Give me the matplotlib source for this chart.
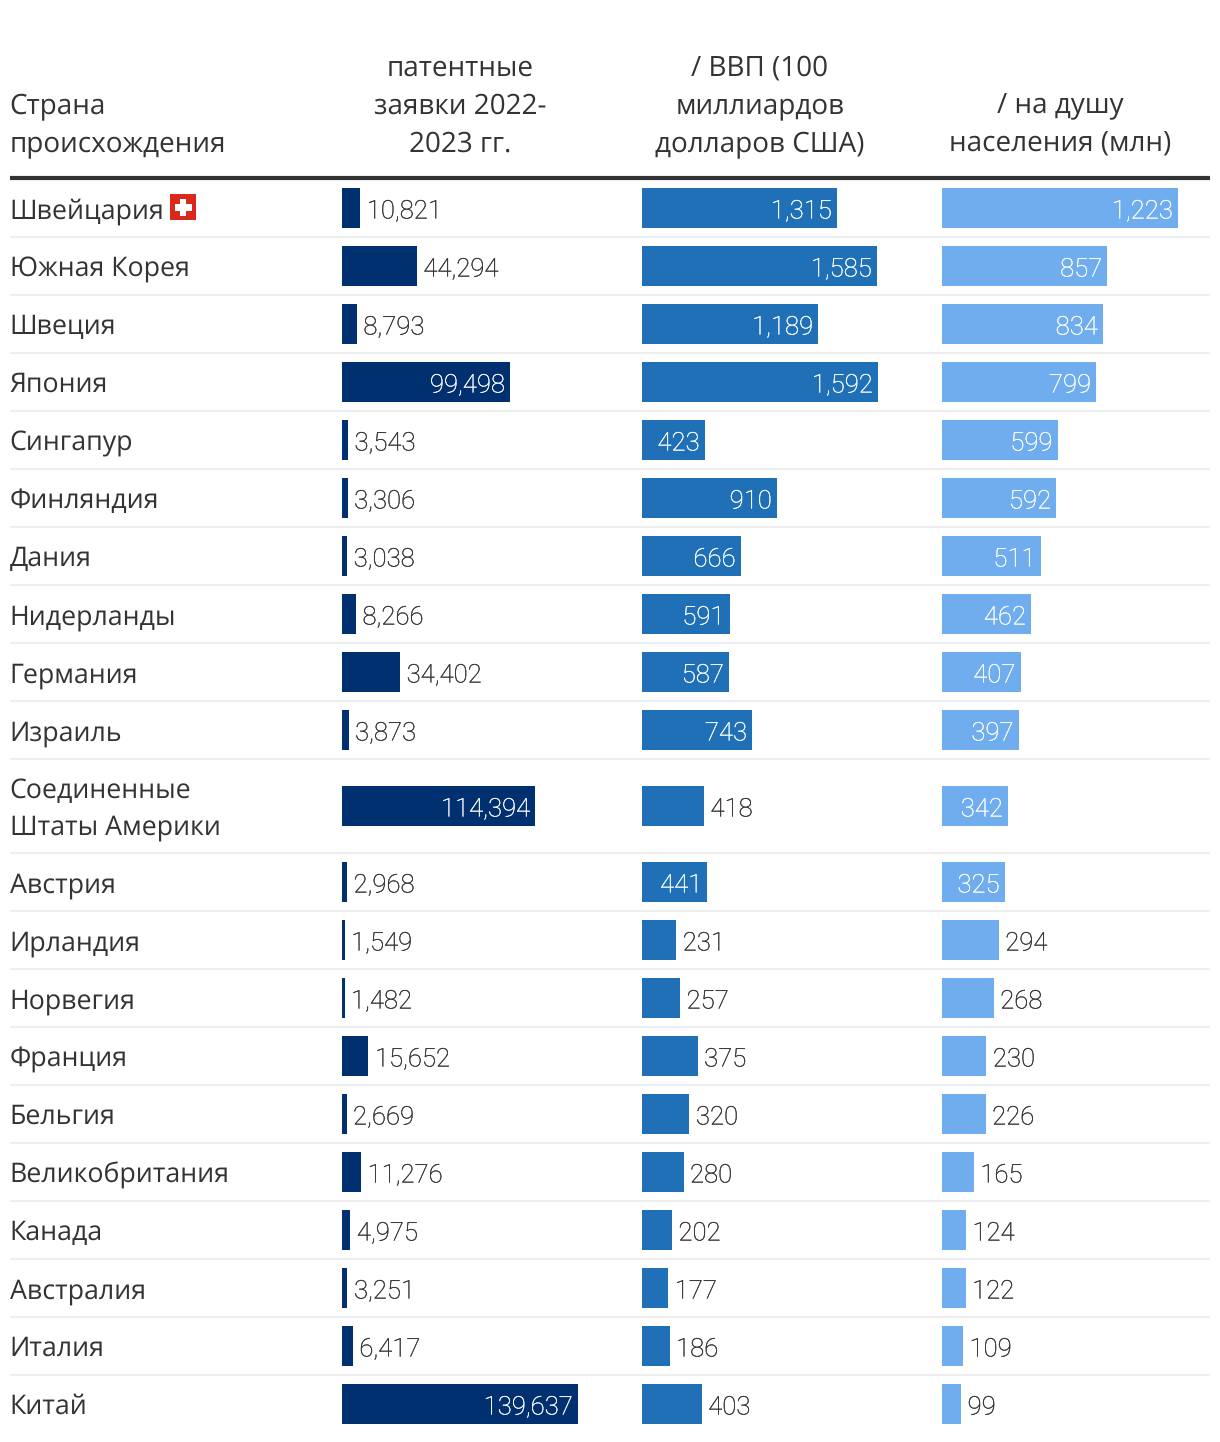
import matplotlib
matplotlib.use('Agg')
from matplotlib import pyplot as plt
from matplotlib import patheffects
from matplotlib.patches import Rectangle

countries = ['Швейцария', 'Южная Корея', 'Швеция', 'Япония', 'Сингапур', 'Финляндия', 'Дания',
             'Нидерланды', 'Германия', 'Израиль', 'Соединенные\nШтаты Америки', 'Австрия', 'Ирландия',
             'Норвегия', 'Франция', 'Бельгия', 'Великобритания', 'Канада', 'Австралия', 'Италия', 'Китай']
patents = [10821, 44294, 8793, 99498, 3543, 3306, 3038, 8266, 34402, 3873, 114394, 2968, 1549, 1482,
           15652, 2669, 11276, 4975, 3251, 6417, 139637]
per_gdp = [1315, 1585, 1189, 1592, 423, 910, 666, 591, 587, 743, 418, 441, 231, 257, 375, 320, 280,
           202, 177, 186, 403]
per_capita = [1223, 857, 834, 799, 599, 592, 511, 462, 407, 397, 342, 325, 294, 268, 230, 226, 165,
              124, 122, 109, 99]
header_country = ['Страна', 'происхождения']
header_patents = ['патентные', 'заявки 2022-', '2023 гг.']
header_gdp = ['/ ВВП (100', 'миллиардов', 'долларов США)']
header_capita = ['/ на душу', 'населения (млн)']

W, H = 1220, 1442
LABEL_FONT = 'Open Sans'
NUM_FONT = 'Roboto'
TEXT = '#333333'
LABEL_SIZE = 19.25
HEAD_SIZE = 20.1

plt.rcParams['text.hinting'] = 'no_hinting'
plt.rcParams['text.hinting_factor'] = 8

fig = plt.figure(figsize=(W / 100, H / 100), dpi=100, facecolor='white')

# фон: подписи, линии и шапка в пикселях
base = fig.add_axes([0, 0, 1, 1])
base.set_xlim(0, W)
base.set_ylim(H, 0)
base.axis('off')

# центры строк
centers = []
y = 208
for name in countries:
    if '\n' in name:
        y += 18
    centers.append(y)
    y += 18 + 58 if '\n' in name else 58

for c, name in zip(centers, countries):
    lines = name.split('\n')
    if len(lines) == 1:
        base.text(9.6, c + 10.2, name, fontsize=LABEL_SIZE, family=LABEL_FONT, color=TEXT, va='baseline')
    else:
        base.text(9.6, c - 7.8, lines[0], fontsize=LABEL_SIZE, family=LABEL_FONT, color=TEXT, va='baseline')
        base.text(9.6, c + 28.2, lines[1], fontsize=LABEL_SIZE, family=LABEL_FONT, color=TEXT, va='baseline')
    if c != centers[-1]:
        sep = c + 29 if len(lines) == 1 else c + 47
        base.plot([10, 1210], [sep, sep], color='#eeeeee', lw=1.5, solid_capstyle='butt')

base.plot([10, 1210], [178, 178], color=TEXT, lw=3, solid_capstyle='butt')

# шапка
for i, t in enumerate(header_country):
    base.text(9.6, 113.6 + 38 * i, t, fontsize=HEAD_SIZE, family=LABEL_FONT, color=TEXT, va='baseline')
for cx, lines in [(460, header_patents), (760, header_gdp), (1060, header_capita)]:
    start = 151.6 - 38 * (len(lines) - 1)
    for i, t in enumerate(lines):
        base.text(cx, start + 38 * i, t, fontsize=HEAD_SIZE, family=LABEL_FONT, color=TEXT,
                  ha='center', va='baseline')

# флаг
base.add_patch(Rectangle((170, 194), 26, 26, color='#da291c', lw=0))
base.add_patch(Rectangle((180, 199), 6, 17, color='white', lw=0))
base.add_patch(Rectangle((175, 204), 17, 7, color='white', lw=0))

# колонки с полосами
columns = [(342, patents, '#00306f', 99498), (642, per_gdp, '#2070b8', 423), (942, per_capita, '#70adee', 325)]
for left, values, color, inside_from in columns:
    ax = fig.add_axes([left / W, 0, 236 / W, 1])
    ax.set_xlim(0, max(values))
    ax.set_ylim(H, 0)
    ax.axis('off')
    ax.patch.set_alpha(0)
    ax.barh(centers, values, height=40, color=color, linewidth=0)
    for c, v in zip(centers, values):
        inside = v >= inside_from
        txt_color = 'white' if inside else TEXT
        ax.annotate(f'{v:,}', (v, c + 10.5), xytext=(-5 if inside else 6.5, 0), textcoords='offset pixels',
                    ha='right' if inside else 'left', va='baseline', fontsize=18.5, family=NUM_FONT,
                    fontweight='light', color=txt_color, annotation_clip=False,
                    path_effects=[patheffects.withStroke(linewidth=0.2, foreground=txt_color)])

fig.savefig('out.png', dpi=100, facecolor='white')
